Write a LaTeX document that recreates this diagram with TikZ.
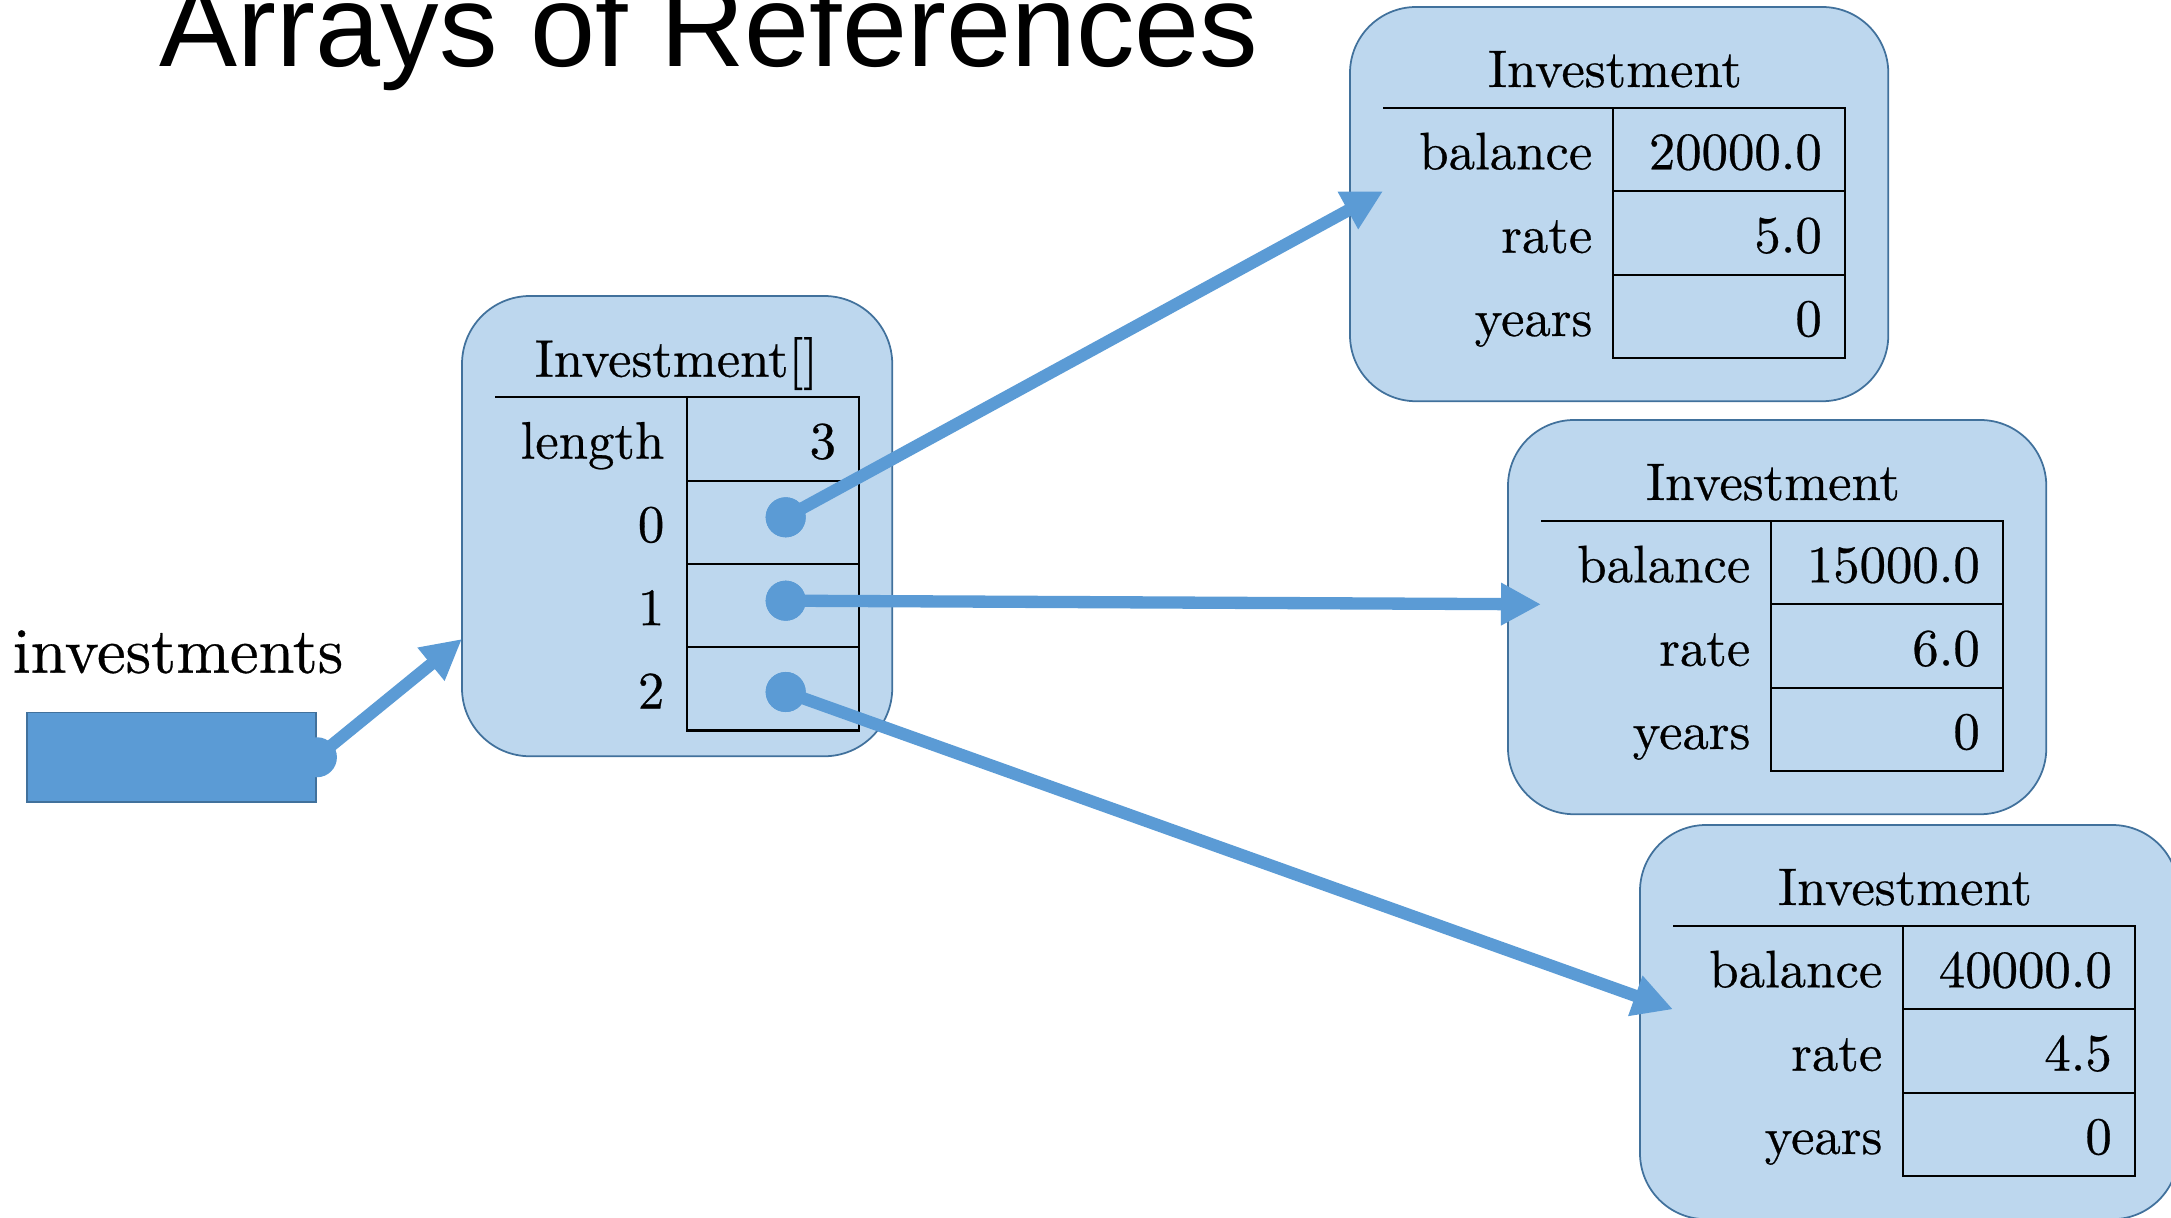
\documentclass[tikz,border=0pt]{standalone}
\usepackage{fontspec}
\newfontfamily\titlefont{Liberation Sans}
\newfontfamily\boxfont{lmroman10-regular.otf}[FakeBold=0.5]
\usetikzlibrary{arrows.meta}

\definecolor{boxfill}{HTML}{BDD7EE}
\definecolor{boxedge}{HTML}{41719C}
\definecolor{refblue}{HTML}{5B9BD5}

\tikzset{
  objbox/.style={rectangle, draw=boxedge, fill=boxfill, line width=0.5pt,
    anchor=north west, inner sep=0pt, outer sep=0pt},
  cell/.style={draw=black, line width=0.6pt},
  txt/.style={font=\boxfont\fontsize{15}{18}\selectfont, inner sep=0pt, text=black},
  ref/.style={draw=refblue, line width=3.5pt, -{Triangle[length=4mm,width=4mm]}},
  refdot/.style={circle, fill=refblue, minimum size=4mm, inner sep=0pt},
}

% An Investment object: #1 name, #2 top-left corner, #3 balance, #4 rate, #5 years
\newcommand\InvestmentObject[5]{%
  \begin{scope}[shift={#2}]
    \node[objbox, minimum width=5.38cm, minimum height=3.94cm,
      rounded corners=6.6mm] (#1) at (0,0) {};
    \node[txt, anchor=base] (#1-head) at (265,80) {Investment};
    \draw[cell] (33,101) -- (495,101);
    \draw[cell] (263,101) rectangle (495,351);
    \draw[cell] (263,184.3) -- (495,184.3) (263,267.7) -- (495,267.7);
    \node[txt, anchor=base east] (#1-k1) at (243,162.3) {balance};
    \node[txt, anchor=base east] (#1-k2) at (243,245.7) {rate};
    \node[txt, anchor=base east] (#1-k3) at (243,329) {years};
    \node[txt, anchor=base east] (#1-v1) at (472.5,162.3) {#3};
    \node[txt, anchor=base east] (#1-v2) at (472.5,245.7) {#4};
    \node[txt, anchor=base east] (#1-v3) at (472.5,329) {#5};
    \coordinate (#1-in) at (33,184.3);
  \end{scope}}

\begin{document}
\begin{tikzpicture}[x=0.01cm, y=-0.01cm]
  \useasboundingbox (0,0) rectangle (2171,1218);

  % heading
  \node[font=\titlefont\fontsize{33.26}{40}\selectfont, inner sep=0pt,
    anchor=base west] (title) at (159,66) {Arrays of References};

  % the variable
  \node[txt, font=\boxfont\fontsize{18.35}{22}\selectfont, anchor=base west]
    (varname) at (12,672.7) {investments};
  \node[rectangle, draw=boxedge, fill=refblue, line width=0.5pt, anchor=north west,
    minimum width=2.89cm, minimum height=0.893cm, inner sep=0pt] (var) at (26,711.7) {};

  % the array object
  \begin{scope}[shift={(462,296)}]
    \node[objbox, minimum width=4.30cm, minimum height=4.60cm,
      rounded corners=6.8mm] (arr) at (0,0) {};
    \node[txt, anchor=base] (arr-head) at (214.3,80.7) {Investment[]};
    \draw[cell] (33,101.3) -- (397.3,101.3);
    \draw[cell] (224.7,101.3) rectangle (397.3,434.5);
    \draw[cell] (224.7,184.6) -- (397.3,184.6) (224.7,267.9) -- (397.3,267.9)
      (224.7,351.2) -- (397.3,351.2);
    \node[txt, anchor=base east] (arr-k0) at (203,162.6) {length};
    \node[txt, anchor=base east] (arr-k1) at (203,245.9) {0};
    \node[txt, anchor=base east] (arr-k2) at (203,329.2) {1};
    \node[txt, anchor=base east] (arr-k3) at (203,412.5) {2};
    \node[txt, anchor=base east] (arr-v0) at (374.7,162.6) {3};
    \coordinate (arr-in) at (0,343);
    \node[refdot] (slot0) at (323.7,221.3) {};
    \node[refdot] (slot1) at (323.7,304.7) {};
    \node[refdot] (slot2) at (323.7,396) {};
  \end{scope}

  % the three Investment objects
  \InvestmentObject{invA}{(1350,7)}{20000.0}{5.0}{0}
  \InvestmentObject{invB}{(1508,420)}{15000.0}{6.0}{0}
  \InvestmentObject{invC}{(1640,825)}{40000.0}{4.5}{0}

  % references
  \node[refdot] (var-dot) at (var.east) {};
  \draw[ref] (var-dot.center) -- (arr-in);
  \draw[ref] (slot0.center) -- (invA-in);
  \draw[ref] (slot1.center) -- (invB-in);
  \draw[ref] (slot2.center) -- (invC-in);
  \node[refdot] at (slot0) {};
  \node[refdot] at (slot1) {};
  \node[refdot] at (slot2) {};
\end{tikzpicture}
\end{document}
